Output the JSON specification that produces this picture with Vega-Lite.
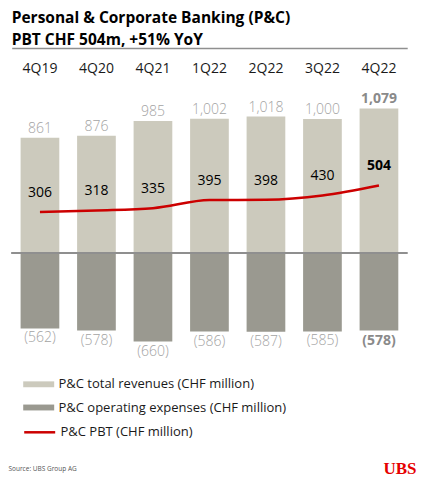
{
  "$schema": "https://vega.github.io/schema/vega-lite/v6.json",
  "width": 395.5,
  "height": 248,
  "autosize": "none",
  "padding": {"left": 11.7, "top": 98.9, "right": 16.8, "bottom": 133.1},
  "background": "white",
  "config": {"view": {"stroke": null}, "font": "Open Sans"},
  "title": {
    "text": ["Personal & Corporate Banking (P&C)", "PBT CHF 504m, +51% YoY"],
    "anchor": "start",
    "frame": "group",
    "font": "Open Sans",
    "fontSize": 15.5,
    "fontWeight": "bold",
    "color": "#000000",
    "lineHeight": 22,
    "offset": 0
  },
  "data": {
    "values": [
      {"quarter": "4Q19", "revenues": 861, "expenses": -562, "pbt": 306},
      {"quarter": "4Q20", "revenues": 876, "expenses": -578, "pbt": 318},
      {"quarter": "4Q21", "revenues": 985, "expenses": -660, "pbt": 335},
      {"quarter": "1Q22", "revenues": 1002, "expenses": -586, "pbt": 395},
      {"quarter": "2Q22", "revenues": 1018, "expenses": -587, "pbt": 398},
      {"quarter": "3Q22", "revenues": 1000, "expenses": -585, "pbt": 430},
      {"quarter": "4Q22", "revenues": 1079, "expenses": -578, "pbt": 504}
    ]
  },
  "layer": [
    {
      "mark": {"type": "bar"},
      "encoding": {
        "x": {
          "field": "quarter",
          "type": "nominal",
          "sort": null,
          "scale": {"paddingInner": 0.315, "paddingOuter": 0.1575},
          "axis": {
            "orient": "top",
            "offset": 50.9,
            "domain": true,
            "domainColor": "#8f8f8f",
            "domainWidth": 1.5,
            "ticks": false,
            "tickSize": 0,
            "labelPadding": -20,
            "labelBaseline": "middle",
            "labelAngle": 0,
            "labelFontSize": 14,
            "labelColor": "#1a1a1a",
            "title": "Source: UBS Group AG",
            "titleX": -3.7,
            "titleY": 420,
            "titleAlign": "left",
            "titleBaseline": "middle",
            "titleFontSize": 6.5,
            "titleFontWeight": "normal",
            "titleColor": "#555555"
          }
        },
        "y": {
          "field": "revenues",
          "type": "quantitative",
          "scale": {"domain": [-700, 1150], "nice": false, "zero": false},
          "axis": {
            "labels": false,
            "ticks": false,
            "domain": false,
            "grid": false,
            "title": "UBS",
            "titleAngle": 0,
            "titleX": 404.3,
            "titleY": 375,
            "titleAlign": "right",
            "titleBaseline": "alphabetic",
            "titleFont": "Liberation Serif",
            "titleFontSize": 17,
            "titleFontWeight": "bold",
            "titleColor": "#E60000"
          }
        },
        "fill": {
          "datum": "P&C total revenues (CHF million)",
          "type": "nominal",
          "scale": {
            "domain": ["P&C total revenues (CHF million)", "P&C operating expenses (CHF million)"],
            "range": ["#CCCABD", "#9A9990"]
          },
          "legend": {
            "title": null,
            "orient": "none",
            "legendX": 19,
            "legendY": 277.4,
            "padding": 0,
            "symbolType": "M-2,-0.38H2V0.38H-2Z",
            "symbolSize": 240,
            "symbolStrokeWidth": 0,
            "labelOffset": 11.75,
            "labelFontSize": 13,
            "labelColor": "#1a1a1a",
            "labelLimit": 400,
            "rowPadding": 8.2
          }
        }
      }
    },
    {
      "mark": {"type": "bar"},
      "encoding": {
        "x": {"field": "quarter", "type": "nominal", "sort": null},
        "y": {"field": "expenses", "type": "quantitative"},
        "fill": {"datum": "P&C operating expenses (CHF million)", "type": "nominal"}
      }
    },
    {
      "mark": {"type": "rule", "color": "#8f8f8f", "strokeWidth": 1.5},
      "encoding": {
        "y": {"datum": 0, "type": "quantitative"}
      }
    },
    {
      "mark": {"type": "line", "strokeWidth": 2.5, "interpolate": "monotone"},
      "encoding": {
        "x": {"field": "quarter", "type": "nominal", "sort": null},
        "y": {"field": "pbt", "type": "quantitative"},
        "stroke": {
          "datum": "P&C PBT (CHF million)",
          "type": "nominal",
          "scale": {"range": ["#CC0000"]},
          "legend": {
            "title": null,
            "orient": "none",
            "legendX": 19,
            "legendY": 324.4,
            "padding": 0,
            "symbolType": "M-2,0H2",
            "symbolSize": 240,
            "symbolStrokeWidth": 2.5,
            "labelOffset": 11.75,
            "labelFontSize": 13,
            "labelColor": "#1a1a1a",
            "labelLimit": 400
          }
        }
      }
    },
    {
      "mark": {
        "type": "text",
        "baseline": "bottom",
        "dy": -2,
        "fontSize": 14,
        "fontWeight": {"expr": "datum.quarter === '4Q22' ? 'bold' : 300"},
        "color": {"expr": "datum.quarter === '4Q22' ? '#8a8a8a' : '#a3a3a3'"}
      },
      "encoding": {
        "x": {"field": "quarter", "type": "nominal", "sort": null},
        "y": {"field": "revenues", "type": "quantitative"},
        "text": {"field": "revenues", "type": "quantitative", "format": ",d"}
      }
    },
    {
      "mark": {
        "type": "text",
        "baseline": "top",
        "dy": 3,
        "fontSize": 14,
        "fontWeight": {"expr": "datum.quarter === '4Q22' ? 'bold' : 300"},
        "color": {"expr": "datum.quarter === '4Q22' ? '#8a8a8a' : '#a3a3a3'"}
      },
      "encoding": {
        "x": {"field": "quarter", "type": "nominal", "sort": null},
        "y": {"field": "expenses", "type": "quantitative"},
        "text": {"field": "expenses", "type": "quantitative", "format": "(,.0f"}
      }
    },
    {
      "mark": {
        "type": "text",
        "baseline": "middle",
        "dy": -19,
        "fontSize": 14,
        "fontWeight": {"expr": "datum.quarter === '4Q22' ? 'bold' : 'normal'"},
        "color": "#000000"
      },
      "encoding": {
        "x": {"field": "quarter", "type": "nominal", "sort": null},
        "y": {"field": "pbt", "type": "quantitative"},
        "text": {"field": "pbt", "type": "quantitative", "format": "d"}
      }
    }
  ]
}
